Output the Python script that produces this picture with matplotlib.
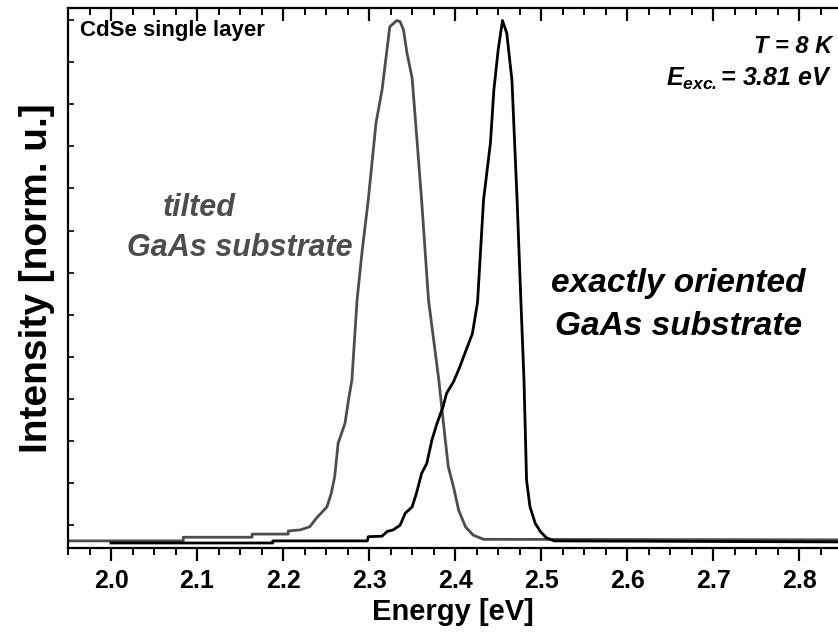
import numpy as np
import matplotlib
matplotlib.use("Agg")
import matplotlib.pyplot as plt

plt.rcParams['font.family'] = ['Liberation Sans', 'DejaVu Sans']
plt.rcParams['mathtext.fontset'] = 'custom'
plt.rcParams['mathtext.it'] = 'Liberation Sans:italic:bold'
plt.rcParams['mathtext.rm'] = 'Liberation Sans:italic:bold'

# tilted GaAs substrate (grey curve)
tilted_E = [1.95, 2.084, 2.084, 2.164, 2.164, 2.206, 2.206, 2.220, 2.231, 2.239,
            2.251, 2.256, 2.260, 2.264, 2.272, 2.276, 2.280, 2.286, 2.292, 2.299,
            2.308, 2.315, 2.324, 2.332, 2.336, 2.340, 2.344, 2.350, 2.355, 2.361,
            2.369, 2.381, 2.386, 2.392, 2.398, 2.404, 2.412, 2.421, 2.433, 2.85]
tilted_I = [0.004, 0.004, 0.011, 0.011, 0.017, 0.017, 0.023, 0.025, 0.031, 0.048,
            0.069, 0.095, 0.127, 0.191, 0.229, 0.273, 0.312, 0.465, 0.56, 0.656,
            0.803, 0.866, 0.987, 0.999, 0.997, 0.981, 0.937, 0.889, 0.784, 0.656,
            0.465, 0.312, 0.235, 0.146, 0.108, 0.063, 0.031, 0.015, 0.007, 0.006]

# exactly oriented GaAs substrate (black curve)
exact_E = [2.0, 2.188, 2.188, 2.298, 2.299, 2.315, 2.321, 2.328, 2.336, 2.342,
           2.350, 2.355, 2.361, 2.367, 2.373, 2.379, 2.386, 2.390, 2.398, 2.405,
           2.413, 2.420, 2.426, 2.433, 2.441, 2.445, 2.450, 2.455, 2.460, 2.466,
           2.472, 2.476, 2.480, 2.482, 2.483, 2.487, 2.493, 2.499, 2.506, 2.515, 2.85]
exact_I = [0.0, 0.0, 0.004, 0.004, 0.012, 0.013, 0.022, 0.025, 0.034, 0.057,
           0.069, 0.095, 0.133, 0.152, 0.197, 0.229, 0.261, 0.286, 0.308, 0.335,
           0.37, 0.40, 0.46, 0.656, 0.765, 0.866, 0.943, 0.999, 0.975, 0.885,
           0.656, 0.48, 0.312, 0.184, 0.12, 0.069, 0.038, 0.022, 0.01, 0.004, 0.002]

x_ticks = [2.0, 2.1, 2.2, 2.3, 2.4, 2.5, 2.6, 2.7, 2.8]

fig = plt.figure(figsize=(8.38, 6.39), dpi=100)
ax = fig.add_axes([68 / 838, 1 - 548 / 639, 1 - 68 / 838, 540 / 639])

grey = '#4d4d4d'
ax.plot(tilted_E, tilted_I, color=grey, lw=2.0)
ax.plot(exact_E, exact_I, color='black', lw=2.0)

ax.set_xlim(1.95, 2.845)
ax.set_ylim(-0.0096, 1.023)

ax.set_xticks(x_ticks)
ax.set_xticklabels([f'{v:.1f}' for v in x_ticks], fontsize=18, fontweight='bold')
ax.set_xticks(np.arange(1.95, 2.85, 0.025), minor=True)
ax.set_yticks(1.0 - 0.0805 * np.arange(13))
ax.set_yticklabels([])

for s in ['left', 'bottom', 'top']:
    ax.spines[s].set_linewidth(1.6)
ax.spines['right'].set_visible(False)

ax.tick_params(axis='x', which='major', direction='out', length=9, width=1.6,
               top=True, pad=6)
ax.tick_params(axis='x', which='minor', direction='out', length=5, width=1.4, top=True)
ax.tick_params(axis='x', which='both', labeltop=False)
ax.tick_params(axis='y', which='major', direction='in', length=4, width=1.2, right=False)
# top axis ticks point into the frame
for t in ax.xaxis.get_major_ticks() + ax.xaxis.get_minor_ticks():
    t.tick2line.set_marker(matplotlib.lines.TICKDOWN)

ax.set_xlabel('Energy [eV]', fontsize=21, fontweight='bold', labelpad=4)
ax.set_ylabel('Intensity [norm. u.]', fontsize=28, fontweight='bold', labelpad=6)

ax.text(0.015, 0.958, 'CdSe single layer', transform=ax.transAxes, fontsize=16,
        fontweight='bold', ha='left', va='center')
ax.text(0.992, 0.928, 'T = 8 K', transform=ax.transAxes, fontsize=17,
        fontweight='bold', style='italic', ha='right', va='center')
ax.text(0.992, 0.868, r'$E_{exc.}$= 3.81 eV', transform=ax.transAxes, fontsize=18,
        fontweight='bold', style='italic', ha='right', va='center')

ax.text(0.123, 0.63, 'tilted', transform=ax.transAxes, fontsize=22, color=grey,
        fontweight='bold', style='italic', ha='left', va='center')
ax.text(0.077, 0.556, 'GaAs substrate', transform=ax.transAxes, fontsize=22, color=grey,
        fontweight='bold', style='italic', ha='left', va='center')
ax.text(0.627, 0.49, 'exactly oriented', transform=ax.transAxes, fontsize=24,
        fontweight='bold', style='italic', ha='left', va='center')
ax.text(0.632, 0.41, 'GaAs substrate', transform=ax.transAxes, fontsize=24,
        fontweight='bold', style='italic', ha='left', va='center')

fig.savefig('out.png', dpi=100)
